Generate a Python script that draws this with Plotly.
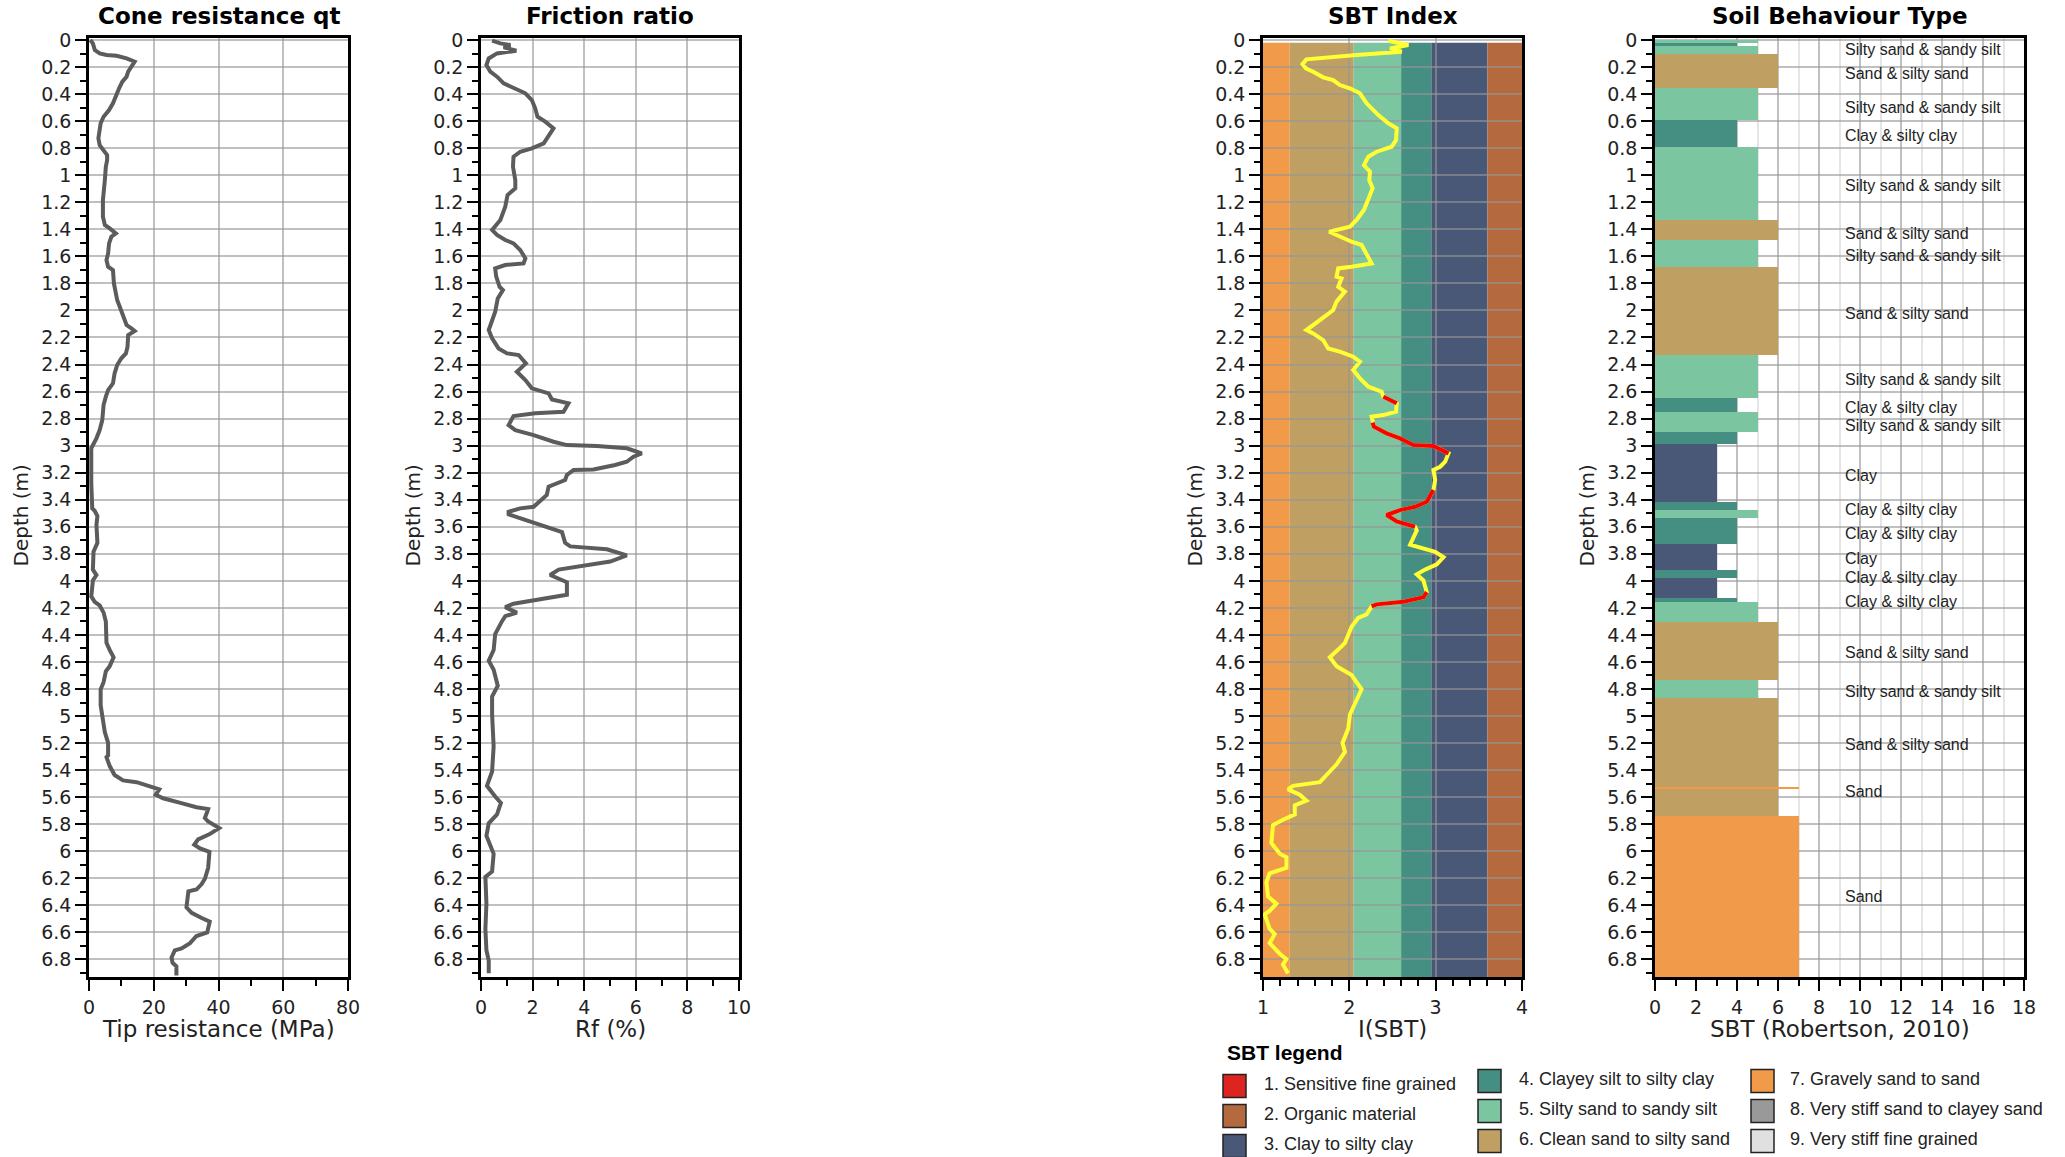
import plotly.graph_objects as go

# ---------------- data ----------------
QT_DEPTH = [0.000, 0.025, 0.074, 0.099, 0.111, 0.116, 0.136, 0.160, 0.197, 0.234, 0.271, 0.308, 0.357, 0.419,
            0.468, 0.518, 0.567, 0.616, 0.666, 0.727, 0.777, 0.814, 0.851, 0.888, 0.937, 1.036, 1.183, 1.307,
            1.368, 1.393, 1.430, 1.455, 1.504, 1.578, 1.627, 1.677, 1.701, 1.800, 1.861, 1.923, 1.972, 2.034,
            2.108, 2.133, 2.152, 2.182, 2.268, 2.318, 2.354, 2.404, 2.466, 2.539, 2.589, 2.638, 2.700, 2.811,
            2.885, 2.946, 2.996, 3.020, 3.279, 3.464, 3.482, 3.521, 3.587, 3.719, 3.785, 3.917, 3.957, 3.997,
            4.115, 4.155, 4.182, 4.235, 4.300, 4.459, 4.512, 4.565, 4.631, 4.670, 4.750, 4.802, 4.921, 5.014,
            5.120, 5.198, 5.291, 5.304, 5.370, 5.436, 5.476, 5.489, 5.515, 5.542, 5.582, 5.608, 5.648, 5.674,
            5.688, 5.754, 5.780, 5.828, 5.873, 5.912, 5.952, 5.979, 6.005, 6.124, 6.203, 6.243, 6.283, 6.296,
            6.415, 6.455, 6.494, 6.521, 6.600, 6.627, 6.680, 6.719, 6.733, 6.786, 6.825, 6.852, 6.918]
QT_MPA = [0.4, 1.2, 1.8, 3.3, 5.4, 8.5, 11.6, 14.1, 13.1, 12.1, 11.6, 10.3, 9.3, 8.3,
          7.4, 6.2, 4.5, 3.6, 3.3, 2.9, 3.3, 4.5, 5.6, 5.6, 5.2, 4.9, 4.3, 4.3,
          4.9, 6.4, 8.3, 6.9, 6.2, 5.9, 5.4, 5.9, 7.4, 7.7, 8.3, 8.7, 9.5, 10.5,
          11.6, 13.1, 14.1, 12.1, 11.9, 11.4, 10.0, 8.7, 7.9, 7.4, 5.9, 5.2, 4.5, 4.1,
          3.3, 2.3, 1.4, 0.7, 0.7, 1.0, 1.75, 2.6, 2.3, 2.6, 1.4, 1.2, 2.3, 1.2,
          0.7, 1.75, 3.3, 4.5, 5.2, 5.4, 6.4, 7.6, 6.4, 5.2, 4.5, 3.6, 3.6, 4.1,
          4.9, 5.9, 5.9, 5.4, 6.4, 7.9, 10.5, 14.7, 18.3, 21.7, 20.6, 22.9, 29.1, 33.2,
          36.8, 35.8, 36.8, 40.2, 37.3, 33.7, 32.5, 34.3, 37.2, 36.8, 35.8, 34.8, 33.2, 30.7,
          30.1, 31.7, 34.8, 37.3, 36.5, 33.2, 31.2, 28.6, 26.5, 25.5, 25.8, 27.0, 27.0]

RF_DEPTH = [0.005, 0.025, 0.037, 0.054, 0.079, 0.099, 0.136, 0.185, 0.234, 0.271, 0.321, 0.365, 0.394, 0.444,
            0.505, 0.567, 0.604, 0.653, 0.715, 0.764, 0.801, 0.826, 0.863, 0.937, 1.036, 1.097, 1.146, 1.233,
            1.331, 1.405, 1.442, 1.479, 1.504, 1.553, 1.615, 1.652, 1.664, 1.689, 1.750, 1.825, 1.849, 1.911,
            2.009, 2.083, 2.145, 2.207, 2.281, 2.318, 2.330, 2.392, 2.453, 2.515, 2.576, 2.613, 2.658, 2.687,
            2.749, 2.761, 2.781, 2.848, 2.885, 2.922, 2.971, 2.996, 3.003, 3.020, 3.057, 3.082, 3.119, 3.143,
            3.176, 3.180, 3.217, 3.254, 3.304, 3.365, 3.452, 3.464, 3.489, 3.508, 3.547, 3.600, 3.640, 3.719,
            3.745, 3.767, 3.812, 3.857, 3.891, 3.917, 3.957, 4.010, 4.103, 4.137, 4.169, 4.195, 4.235, 4.261,
            4.300, 4.393, 4.512, 4.591, 4.657, 4.776, 4.855, 4.988, 5.225, 5.410, 5.516, 5.595, 5.642, 5.727,
            5.793, 5.886, 6.018, 6.150, 6.190, 6.388, 6.573, 6.732, 6.810, 6.903]
RF_PCT = [0.43, 0.75, 1.14, 0.88, 1.37, 0.62, 0.30, 0.21, 0.36, 0.62, 0.88, 1.39, 1.72, 1.97,
          2.10, 2.19, 2.49, 2.81, 2.62, 2.43, 1.97, 1.52, 1.26, 1.24, 1.33, 1.33, 1.03, 0.94,
          0.75, 0.43, 0.62, 0.94, 1.26, 1.52, 1.72, 1.65, 0.94, 0.55, 0.59, 0.72, 0.85, 0.65,
          0.55, 0.43, 0.30, 0.43, 0.68, 1.01, 1.46, 1.74, 1.39, 1.72, 1.97, 2.62, 2.75, 3.39,
          3.20, 2.10, 1.26, 1.07, 1.33, 2.04, 2.81, 3.33, 4.49, 5.65, 6.23, 5.91, 5.65, 5.20,
          4.36, 3.59, 3.33, 3.26, 2.62, 2.55, 2.04, 1.52, 1.07, 1.07, 1.65, 2.43, 3.14, 3.26,
          3.46, 4.88, 5.65, 5.01, 3.85, 3.01, 2.68, 3.33, 3.33, 2.30, 1.26, 0.94, 1.39, 0.94,
          0.81, 0.55, 0.49, 0.30, 0.49, 0.65, 0.43, 0.43, 0.49, 0.43, 0.23, 0.55, 0.77, 0.62,
          0.30, 0.21, 0.49, 0.43, 0.17, 0.21, 0.17, 0.21, 0.30, 0.30]

IC_DEPTH = [0.005, 0.037, 0.062, 0.086, 0.111, 0.143, 0.178, 0.210, 0.234, 0.276, 0.296, 0.333, 0.357, 0.394,
            0.468, 0.555, 0.616, 0.653, 0.740, 0.789, 0.826, 0.863, 0.925, 0.974, 1.036, 1.097, 1.159, 1.257,
            1.331, 1.381, 1.418, 1.442, 1.492, 1.516, 1.578, 1.652, 1.677, 1.689, 1.750, 1.763, 1.825, 1.861,
            1.935, 1.997, 2.034, 2.071, 2.108, 2.145, 2.170, 2.219, 2.281, 2.305, 2.342, 2.379, 2.441, 2.502,
            2.564, 2.601, 2.638, 2.663, 2.687, 2.749, 2.774, 2.786, 2.830, 2.860, 2.909, 2.946, 2.996, 3.003,
            3.057, 3.119, 3.156, 3.180, 3.254, 3.328, 3.353, 3.415, 3.452, 3.477, 3.513, 3.561, 3.600, 3.627,
            3.733, 3.759, 3.786, 3.825, 3.878, 3.917, 3.952, 3.997, 4.050, 4.084, 4.121, 4.155, 4.174, 4.189,
            4.248, 4.274, 4.340, 4.459, 4.485, 4.565, 4.631, 4.697, 4.802, 4.908, 4.988, 5.093, 5.199, 5.265,
            5.357, 5.436, 5.489, 5.516, 5.542, 5.582, 5.626, 5.661, 5.727, 5.767, 5.806, 5.938, 6.018, 6.044,
            6.123, 6.163, 6.229, 6.335, 6.388, 6.441, 6.467, 6.573, 6.613, 6.679, 6.758, 6.798, 6.838, 6.904]
IC_VALUE = [2.452, 2.684, 2.471, 2.607, 2.084, 1.503, 1.457, 1.496, 1.581, 1.697, 1.813, 1.890, 2.007, 2.123,
            2.200, 2.336, 2.452, 2.549, 2.541, 2.491, 2.316, 2.220, 2.169, 2.239, 2.231, 2.270, 2.231, 2.169,
            2.084, 2.007, 1.767, 1.852, 2.026, 2.142, 2.200, 2.258, 2.026, 1.871, 1.852, 1.910, 1.871, 1.948,
            1.852, 1.813, 1.736, 1.658, 1.581, 1.503, 1.581, 1.697, 1.755, 1.890, 2.045, 2.123, 2.045, 2.123,
            2.220, 2.374, 2.394, 2.471, 2.549, 2.541, 2.394, 2.258, 2.270, 2.285, 2.432, 2.587, 2.742, 2.974,
            3.149, 3.110, 3.052, 2.974, 2.994, 2.974, 2.955, 2.897, 2.761, 2.587, 2.432, 2.549, 2.761, 2.781,
            2.704, 2.858, 2.994, 3.091, 3.013, 2.878, 2.781, 2.858, 2.889, 2.897, 2.858, 2.626, 2.316, 2.258,
            2.200, 2.103, 2.026, 1.949, 1.910, 1.774, 1.852, 2.026, 2.142, 2.065, 2.007, 1.987, 1.921, 1.949,
            1.852, 1.736, 1.658, 1.348, 1.290, 1.426, 1.503, 1.368, 1.368, 1.232, 1.116, 1.097, 1.194, 1.271,
            1.271, 1.077, 1.039, 1.058, 1.155, 1.077, 1.019, 1.077, 1.136, 1.077, 1.194, 1.271, 1.232, 1.290]
# depth intervals flagged "1. Sensitive fine grained" on the Ic profile
SENSITIVE_FROM = [2.638, 2.830, 3.328, 4.084]
SENSITIVE_TO = [2.687, 3.057, 3.600, 4.189]

# Robertson Ic zone boundaries (background bands of the SBT index track)
IC_BAND_FROM = [1.00, 1.31, 2.05, 2.60, 2.95, 3.60]
IC_BAND_TO = [1.31, 2.05, 2.60, 2.95, 3.60, 4.00]
IC_BAND_ZONE = [7, 6, 5, 4, 3, 2]

# soil behaviour type layers
LAYER_TOP = [0.000, 0.020, 0.044, 0.104, 0.352, 0.592, 0.789, 1.331, 1.479, 1.677, 2.330, 2.646, 2.752, 2.899,
             2.988, 3.415, 3.476, 3.534, 3.725, 3.920, 3.978, 4.124, 4.158, 4.306, 4.731, 4.863, 5.532, 5.542,
             5.740]
LAYER_BOTTOM = [0.020, 0.044, 0.104, 0.352, 0.592, 0.789, 1.331, 1.479, 1.677, 2.330, 2.646, 2.752, 2.899, 2.988,
                3.415, 3.476, 3.534, 3.725, 3.920, 3.978, 4.124, 4.158, 4.306, 4.731, 4.863, 5.532, 5.542, 5.740,
                6.930]
LAYER_ZONE = [5, 4, 5, 6, 5, 4, 5, 6, 5, 6, 5, 4, 5, 4,
              3, 4, 5, 4, 3, 4, 3, 4, 5, 6, 5, 6, 7, 6,
              7]

LABEL_TEXT = ["Silty sand & sandy silt", "Sand & silty sand", "Silty sand & sandy silt", "Clay & silty clay",
              "Silty sand & sandy silt", "Sand & silty sand", "Silty sand & sandy silt", "Sand & silty sand",
              "Silty sand & sandy silt", "Clay & silty clay", "Silty sand & sandy silt", "Clay",
              "Clay & silty clay", "Clay & silty clay", "Clay", "Clay & silty clay", "Clay & silty clay",
              "Sand & silty sand", "Silty sand & sandy silt", "Sand & silty sand", "Sand", "Sand"]
LABEL_DEPTH = [0.069, 0.247, 0.498, 0.708, 1.075, 1.430, 1.596, 2.022, 2.510, 2.717, 2.853, 3.218,
               3.469, 3.648, 3.838, 3.976, 4.155, 4.533, 4.816, 5.214, 5.555, 6.335]

SBT_NAMES = ["1. Sensitive fine grained", "2. Organic material", "3. Clay to silty clay",
             "4. Clayey silt to silty clay", "5. Silty sand to sandy silt", "6. Clean sand to silty sand",
             "7. Gravely sand to sand", "8. Very stiff sand to clayey sand", "9. Very stiff fine grained"]
SBT_COLORS = ["#DD2420", "#B5693F", "#4A5878", "#448F82", "#7BC5A0", "#BFA062", "#F09A4A", "#999999", "#E0E0E0"]

PANEL_TITLES = ["Cone resistance qt", "Friction ratio", "SBT Index", "Soil Behaviour Type"]
X_TITLES = ["Tip resistance (MPa)", "Rf (%)", "I(SBT)", "SBT (Robertson, 2010)"]

# ---------------- layout constants ----------------
W, H = 2065, 1157
PANEL_PX = [(89, 348), (481, 739), (1263, 1522), (1655, 2024)]
TOP_PX, BOT_PX = 38, 977
Y_RANGE = [6.93, -0.015]
GRID = "rgba(150,150,150,0.6)"
TICKFONT = dict(family="DejaVu Sans, Verdana, sans-serif", size=19, color="#222")
TITLEFONT = dict(family="DejaVu Sans, Verdana, sans-serif", size=23, color="#000", weight="bold")
AXTITLEFONT = dict(family="DejaVu Sans, Verdana, sans-serif", size=23, color="#222")
YTITLEFONT = dict(family="DejaVu Sans, Verdana, sans-serif", size=20, color="#222")
NARROW = "Liberation Sans Narrow, Arial Narrow, Liberation Sans, Arial, sans-serif"
SANS = "Liberation Sans, Arial, sans-serif"

def px_x(p):
    return p / W

def px_y(p):
    return 1 - p / H

fig = go.Figure()

# panel 1: cone resistance
fig.add_trace(go.Scatter(x=QT_MPA, y=QT_DEPTH, mode="lines", xaxis="x", yaxis="y",
                         line=dict(color="#5c5c5c", width=4), hoverinfo="x+y"))
# panel 2: friction ratio
fig.add_trace(go.Scatter(x=RF_PCT, y=RF_DEPTH, mode="lines", xaxis="x2", yaxis="y2",
                         line=dict(color="#5c5c5c", width=4), hoverinfo="x+y"))
# panel 3: Ic
fig.add_trace(go.Scatter(x=IC_VALUE, y=IC_DEPTH, mode="lines", xaxis="x3", yaxis="y3",
                         line=dict(color="#FFFF33", width=4), hoverinfo="x+y"))
for lo, hi in zip(SENSITIVE_FROM, SENSITIVE_TO):
    xs = [v for d, v in zip(IC_DEPTH, IC_VALUE) if lo - 1e-9 <= d <= hi + 1e-9]
    ys = [d for d in IC_DEPTH if lo - 1e-9 <= d <= hi + 1e-9]
    fig.add_trace(go.Scatter(x=xs, y=ys, mode="lines", xaxis="x3", yaxis="y3",
                             line=dict(color="#FF0000", width=4), hoverinfo="x+y"))

# background bands in Ic track
for x0, x1, z in zip(IC_BAND_FROM, IC_BAND_TO, IC_BAND_ZONE):
    fig.add_shape(type="rect", xref="x3", yref="y3", x0=x0, x1=x1, y0=0.02, y1=Y_RANGE[0],
                  fillcolor=SBT_COLORS[z - 1], line=dict(width=0), layer="below")

# panel 4: SBT layers
mids = [(a + b) / 2 for a, b in zip(LAYER_TOP, LAYER_BOTTOM)]
thick = [b - a for a, b in zip(LAYER_TOP, LAYER_BOTTOM)]
fig.add_trace(go.Bar(x=LAYER_ZONE, y=mids, width=thick, orientation="h", xaxis="x4", yaxis="y4",
                     marker=dict(color=[SBT_COLORS[z - 1] for z in LAYER_ZONE], line=dict(width=0)),
                     hoverinfo="x"))
for t, d in zip(LABEL_TEXT, LABEL_DEPTH):
    fig.add_annotation(x=9.15, y=d, xref="x4", yref="y4", text=t, showarrow=False,
                       xanchor="left", yanchor="middle",
                       font=dict(family=NARROW, size=16, color="#222"))

# axes
x_cfg = [
    dict(range=[0, 80], dtick=20, minor=dict(dtick=10, ticklen=6, tickwidth=2, tickcolor="#000")),
    dict(range=[0, 10], dtick=2, minor=dict(dtick=1, ticklen=6, tickwidth=2, tickcolor="#000")),
    dict(range=[1, 4], dtick=1, minor=dict(dtick=0.2, ticklen=6, tickwidth=2, tickcolor="#000")),
    dict(range=[0, 18], dtick=2, minor=dict(dtick=1, ticklen=6, tickwidth=2, tickcolor="#000",
                                             showgrid=True, gridcolor="rgba(150,150,150,0.25)", gridwidth=1.5)),
]
layout = dict(width=W, height=H, margin=dict(l=0, r=0, t=0, b=0, pad=0, autoexpand=False), showlegend=False,
              paper_bgcolor="white", plot_bgcolor="white", bargap=0)
for i, ((l, r), xc) in enumerate(zip(PANEL_PX, x_cfg)):
    n = "" if i == 0 else str(i + 1)
    layout["xaxis" + n] = dict(domain=[px_x(l), px_x(r)], anchor="y" + n, tick0=0, automargin=False,
                               ticks="outside", ticklen=11, tickwidth=2, tickcolor="#000",
                               showgrid=True, gridcolor=GRID, gridwidth=1.5, zeroline=False,
                               showline=True, mirror=True, linecolor="#000", linewidth=2.5,
                               tickfont=TICKFONT, fixedrange=True, **xc)
    layout["yaxis" + n] = dict(domain=[px_y(BOT_PX), px_y(TOP_PX)], anchor="x" + n, range=Y_RANGE,
                               automargin=False,
                               tick0=0, dtick=0.2, ticks="outside", ticklen=11, tickwidth=2, tickcolor="#000",
                               minor=dict(dtick=0.1, ticklen=6, tickwidth=2, tickcolor="#000"),
                               showgrid=True, gridcolor=GRID, gridwidth=1.5, zeroline=False,
                               showline=True, mirror=True, linecolor="#000", linewidth=2.5,
                               tickfont=TICKFONT, fixedrange=True)
    cx = px_x((l + r) / 2)
    fig.add_annotation(x=cx, y=px_y(16), xref="paper", yref="paper", text=PANEL_TITLES[i],
                       showarrow=False, xanchor="center", yanchor="middle", font=TITLEFONT)
    fig.add_annotation(x=cx, y=px_y(1029), xref="paper", yref="paper", text=X_TITLES[i],
                       showarrow=False, xanchor="center", yanchor="middle", font=AXTITLEFONT)
    fig.add_annotation(x=px_x(l - 69), y=px_y((TOP_PX + BOT_PX) / 2 + 8), xref="paper", yref="paper",
                       text="Depth (m)", textangle=-90, showarrow=False, xanchor="center",
                       yanchor="middle", font=YTITLEFONT)
fig.update_layout(**layout)

# SBT legend
fig.add_annotation(x=px_x(1225), y=px_y(1052), xref="paper", yref="paper", text="<b>SBT legend</b>",
                   showarrow=False, xanchor="left", yanchor="middle",
                   font=dict(family=SANS, size=21, color="#000"))
COL_SQ_X = [1223, 1478, 1751]
COL_TX_X = [1262, 1517, 1788]
COL_Y0 = [1086, 1081, 1081]
ROW_STEP = 30
for k, (name, col) in enumerate(zip(SBT_NAMES, SBT_COLORS)):
    c, r = k // 3, k % 3
    cy = COL_Y0[c] + r * ROW_STEP
    fig.add_shape(type="rect", xref="paper", yref="paper",
                  x0=px_x(COL_SQ_X[c]), x1=px_x(COL_SQ_X[c] + 23),
                  y0=px_y(cy + 11.5), y1=px_y(cy - 11.5),
                  fillcolor=col, line=dict(color="#222", width=1.5))
    fig.add_annotation(x=px_x(COL_TX_X[c]), y=px_y(cy - 2), xref="paper", yref="paper", text=name,
                       showarrow=False, xanchor="left", yanchor="middle",
                       font=dict(family=SANS, size=18, color="#222"))

fig.write_html("out.html", config={"displayModeBar": False},
               post_script="document.body.style.margin='0';document.body.style.overflow='hidden';")
